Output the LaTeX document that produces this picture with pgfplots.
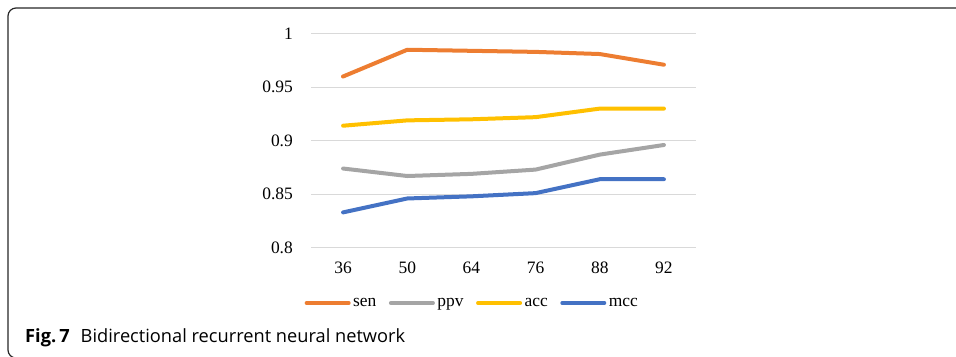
\documentclass[border=0pt]{standalone}
\usepackage{fontspec}
\setmainfont{Liberation Serif}
\newfontfamily\capfont{Open Sans}
\usepackage{pgfplots}
\pgfplotsset{compat=1.18}

\definecolor{senC}{HTML}{ED7D31}
\definecolor{ppvC}{HTML}{A5A5A5}
\definecolor{accC}{HTML}{FFC000}
\definecolor{mccC}{HTML}{4472C4}
\definecolor{gridC}{HTML}{D9D9D9}

\begin{document}
\begin{tikzpicture}[x=1bp,y=1bp]
\clip (0,0) rectangle (956,356);
% panel frame with rounded left corners
\draw[line width=1.2bp, black!85]
  (960,348) -- (16,348) arc[start angle=90, end angle=180, radius=8]
  -- (8,6) arc[start angle=180, end angle=270, radius=8] -- (960,-2);

\begin{axis}[
  at={(311bp,108.3bp)}, anchor=south west,
  scale only axis, width=385bp, height=214bp,
  xmin=-0.5, xmax=5.5, ymin=0.8, ymax=1.0,
  xtick={0,...,5}, xticklabels={36,50,64,76,88,92},
  ytick={0.8,0.85,0.9,0.95,1},
  yticklabels={0.8,0.85,0.9,0.95,1},
  axis line style={draw=none},
  major tick length=0pt,
  ymajorgrids, grid style={gridC, line width=1.3bp},
  tick label style={font=\fontsize{17.5}{20}\selectfont},
  yticklabel style={anchor=east, inner sep=0pt, xshift=-18bp},
  xticklabel style={anchor=north, inner sep=0pt, yshift=-14.5bp},
  legend columns=4,
  legend style={at={(0.4195,-0.2584)}, anchor=center, draw=none,
    font=\fontsize{17.5}{20}\selectfont,
    nodes={inner sep=2.5bp},
    /tikz/every even column/.append style={column sep=10bp}},
  legend image code/.code={
    \path (0bp,0bp) -- (42bp,0bp);
    \draw[line width=4bp, line cap=round, #1] (2bp,0bp) -- (39bp,0bp);},
  every axis plot/.append style={line width=4bp, line cap=round, line join=round},
]
\addplot[senC] coordinates {(0,0.960) (1,0.985) (2,0.984) (3,0.983) (4,0.981) (5,0.971)};
\addplot[ppvC] coordinates {(0,0.874) (1,0.867) (2,0.869) (3,0.873) (4,0.887) (5,0.896)};
\addplot[accC] coordinates {(0,0.914) (1,0.919) (2,0.920) (3,0.922) (4,0.930) (5,0.930)};
\addplot[mccC] coordinates {(0,0.833) (1,0.846) (2,0.848) (3,0.851) (4,0.864) (5,0.864)};
\legend{sen,ppv,acc,mcc}
\end{axis}

\node[anchor=base west, inner sep=0pt] at (25,14)
  {\capfont\fontsize{18.3}{21}\selectfont\textbf{Fig.\,7}\hspace{11bp}Bidirectional recurrent neural network};
\end{tikzpicture}
\end{document}
